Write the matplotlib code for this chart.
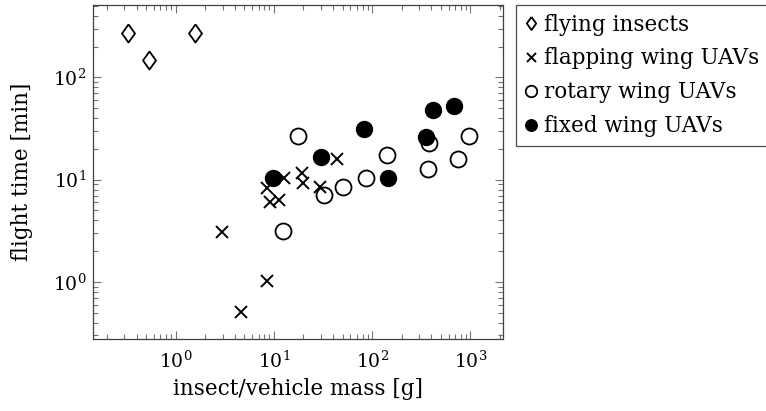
import matplotlib
matplotlib.use("Agg")
import matplotlib.pyplot as plt
from matplotlib.ticker import LogLocator, NullFormatter

# flight endurance vs. mass
insect_mass = [0.33, 0.53, 1.57]
insect_time = [270, 147, 270]

flapping_mass = [2.98, 4.65, 8.55, 8.55, 9.1, 11.2, 12.6, 19.1, 19.9, 29.4, 44.0]
flapping_time = [3.06, 0.51, 1.02, 8.2, 6.1, 6.4, 10.3, 11.5, 9.3, 8.4, 15.8]

rotary_mass = [12.3, 17.7, 32.3, 50.7, 86, 143, 371, 380, 750, 970]
rotary_time = [3.17, 26.7, 7.1, 8.4, 10.5, 17.4, 12.6, 22.7, 16.0, 26.7]

fixed_mass = [9.8, 30.5, 82, 146, 352, 418, 683]
fixed_time = [10.5, 16.6, 31.3, 10.3, 26.0, 48.0, 52.9]

plt.rcParams['font.family'] = 'DejaVu Serif'
plt.rcParams['mathtext.fontset'] = 'dejavuserif'
plt.rcParams['font.size'] = 15.5

# pgfplots-like diamond, a bit narrower than tall
diamond = [(0, 1), (0.72, 0), (0, -1), (-0.72, 0), (0, 1)]

fig = plt.figure(figsize=(7.66, 4.11), dpi=100)
ax = fig.add_axes([93 / 766, 72 / 411, 410 / 766, 334 / 411])

ax.plot(insect_mass, insect_time, ls='none', marker=diamond, ms=13, mfc='white',
        mec='black', mew=1.3, label='flying insects')
ax.plot(flapping_mass, flapping_time, ls='none', marker='x', ms=9, mec='black',
        mew=1.4, label='flapping wing UAVs')
ax.plot(rotary_mass, rotary_time, ls='none', marker='o', ms=11.5, mfc='none',
        mec='black', mew=1.3, label='rotary wing UAVs')
ax.plot(fixed_mass, fixed_time, ls='none', marker='o', ms=11.5, mfc='black',
        mec='black', mew=1.0, label='fixed wing UAVs')

ax.set_xscale('log')
ax.set_yscale('log')
ax.set_xlim(0.144, 2150)
ax.set_ylim(0.277, 510)

for a in (ax.xaxis, ax.yaxis):
    a.set_major_locator(LogLocator(base=10, numticks=10))
    a.set_minor_locator(LogLocator(base=10, subs=range(2, 10), numticks=20))
    a.set_minor_formatter(NullFormatter())

ax.tick_params(which='both', direction='in', top=True, right=True,
               color='0.45', width=0.8, labelsize=13.5)
ax.tick_params(which='major', length=6)
ax.tick_params(axis='x', which='major', pad=8)
ax.tick_params(axis='y', which='major', pad=5)
ax.tick_params(which='minor', length=3.5)
for s in ax.spines.values():
    s.set_linewidth(0.9)
    s.set_color('0.25')

ax.set_xlabel('insect/vehicle mass [g]', labelpad=5)
ax.set_ylabel('flight time [min]', labelpad=14)

leg = ax.legend(loc='upper left', bbox_to_anchor=(516 / 766, 1 - 5 / 411),
                bbox_transform=fig.transFigure, fancybox=False, framealpha=1,
                edgecolor='0.3', handlelength=0.6, handletextpad=0.3,
                borderpad=0.4, labelspacing=0.55, borderaxespad=0,
                markerscale=0.72)
leg.get_frame().set_linewidth(0.9)

fig.savefig('out.png', dpi=100)
